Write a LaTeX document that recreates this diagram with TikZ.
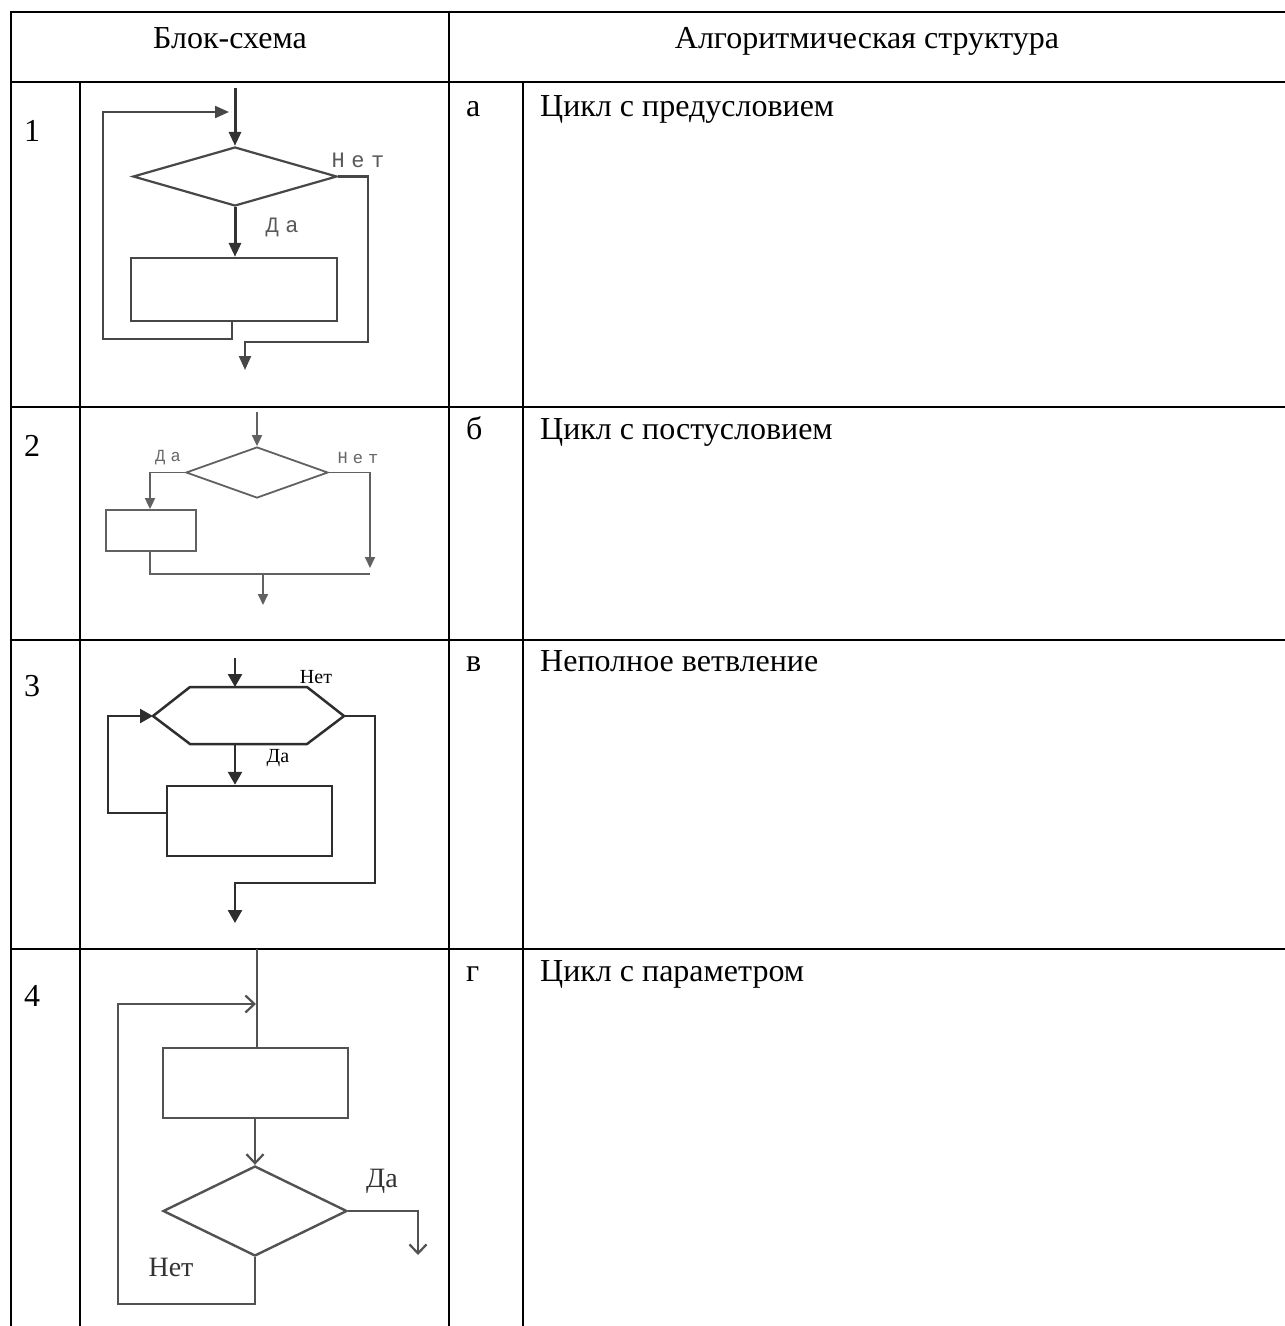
\documentclass[tikz,border=0pt]{standalone}
\usepackage{fontspec}
\setmainfont{Liberation Serif}
\setmonofont{Liberation Mono}
\newfontfamily\lblmono[LetterSpace=30]{Liberation Mono}
\usetikzlibrary{shapes.geometric,arrows.meta}
\begin{document}
\begin{tikzpicture}[x=1pt,y=-1pt,
  tbl/.style={line width=2.6pt,black},
  tblthin/.style={line width=1.8pt,black},
  txt/.style={anchor=base west,inner sep=0pt,font=\fontsize{32}{38}\selectfont},
  hdr/.style={anchor=base,inner sep=0pt,font=\fontsize{32}{38}\selectfont},
  fla/.style={draw=black!72,line width=2.2pt},
  flathick/.style={draw=black!80,line width=3pt},
  flb/.style={draw=black!62,line width=1.8pt},
  flc/.style={draw=black!82,line width=2.5pt},
  fld/.style={draw=black!68,line width=2.4pt},
  tipa/.style={-{Triangle[length=14pt,width=12pt]}},
  tipb/.style={-{Triangle[length=11pt,width=10pt]}},
  tipc/.style={-{Triangle[length=13pt,width=14pt]}},
  tipd/.style={-{Straight Barb[length=9pt,width=17pt,line width=2.2pt]}},
  lbla/.style={inner sep=0pt,text=black!65,font=\fontsize{22}{24}\lblmono},
  lblb/.style={inner sep=0pt,text=black!60,font=\fontsize{17}{19}\lblmono},
  lblc/.style={inner sep=0pt,text=black,font=\fontsize{20}{22}\selectfont},
  lbld/.style={inner sep=0pt,text=black!80,font=\fontsize{28}{30}\selectfont},
  dia/.style={shape=diamond,inner sep=0pt},
  boxs/.style={shape=rectangle,inner sep=0pt}
]
\useasboundingbox (0,0) rectangle (1285,1326);
\fill[white] (0,0) rectangle (1285,1326);

% ---------- table ----------
\draw[tbl] (11,12) -- (1285,12);
\draw[tbl] (11,82) -- (1285,82);
\draw[tbl] (11,407) -- (94,407);
\draw[tblthin] (94,407) -- (405,407);
\draw[tbl] (405,407) -- (1285,407);
\draw[tbl] (11,640) -- (94,640);
\draw[tblthin] (94,640) -- (421,640);
\draw[tbl] (421,640) -- (1285,640);
\draw[tbl] (11,949) -- (94,949);
\draw[tblthin] (94,949) -- (436,949);
\draw[tbl] (436,949) -- (1285,949);
\draw[tbl] (11,10.7) -- (11,1326);
\draw[tbl] (449,10.7) -- (449,1326);
\draw[tbl] (80,82) -- (80,1326);
\draw[tbl] (523,82) -- (523,1326);

\node[hdr] (h1) at (230,48) {Блок-схема};
\node[hdr] (h2) at (867,48) {Алгоритмическая структура};

\node[txt] (n1) at (24,141) {1};
\node[txt] (n2) at (24,456) {2};
\node[txt] (n3) at (24,696) {3};
\node[txt] (n4) at (24,1006) {4};

\node[txt] (s1) at (466,116) {а};
\node[txt] (s2) at (466,439) {б};
\node[txt] (s3) at (466,671) {в};
\node[txt] (s4) at (466,981) {г};

\node[txt] (t1) at (540,116) {Цикл с предусловием};
\node[txt] (t2) at (540,439) {Цикл с постусловием};
\node[txt] (t3) at (540,671) {Неполное ветвление};
\node[txt] (t4) at (540,981) {Цикл с параметром};

% ---------- flowchart 1 ----------
\node[dia,fla,minimum width=204pt,minimum height=59pt] (d1) at (235,176.5) {};
\node[boxs,fla,minimum width=206pt,minimum height=63pt] (r1) at (234,289.5) {};
\coordinate (in1) at (235,88);
\coordinate (j1) at (229,112);
\coordinate (out1) at (245,370);
\draw[flathick,tipa] (in1) -- (d1.north);
\draw[flathick,tipa] (d1.south) -- (d1.south |- r1.north);
\draw[fla,tipa] ([xshift=-2pt]r1.south) -- ++(0,17) -| (103,112) -- (j1);
\draw[fla,tipa] (d1.east) -| (368,342) -| (out1);
\node[lbla] (ln1) at (358,160) {Нет};
\node[lbla] (ly1) at (282,227) {Да};

% ---------- flowchart 2 ----------
\node[dia,flb,minimum width=142pt,minimum height=51pt] (d2) at (257,472.5) {};
\node[boxs,flb,minimum width=90pt,minimum height=41pt] (r2) at (151,530.5) {};
\coordinate (in2) at (257,412);
\coordinate (m2) at (370,574);
\coordinate (out2) at (263,605);
\draw[flb,tipb] (in2) -- (d2.north);
\draw[flb,tipb] (d2.west) -| (r2.north -| 150,0);
\draw[flb] (r2.south -| 150,0) |- (m2);
\draw[flb,tipb] (d2.east) -| (370,568);
\draw[flb,tipb] (out2 |- m2) -- (out2);
\node[lblb] (ly2) at (168,458) {Да};
\node[lblb] (ln2) at (358,458) {Нет};

% ---------- flowchart 3 ----------
\coordinate (hL) at (153,716);
\coordinate (hTL) at (190,687);
\coordinate (hTR) at (307,687);
\coordinate (hR) at (344,716);
\coordinate (hBR) at (307,744);
\coordinate (hBL) at (190,744);
\draw[flc,line join=round] (hL) -- (hTL) -- (hTR) -- (hR) -- (hBR) -- (hBL) -- cycle;
\node[boxs,flc,minimum width=165pt,minimum height=70pt] (r3) at (249.5,821) {};
\coordinate (in3) at (235,658);
\coordinate (out3) at (235,923);
\draw[flc,tipc] (in3) -- (in3 |- hTL);
\draw[flc,tipc] (in3 |- hBL) -- (in3 |- r3.north);
\draw[flc,tipc] (r3.west |- 0,813) -- (108,813) |- (hL);
\draw[flc,tipc] (hR) -| (375,883) -| (out3);
\node[lblc] (ln3) at (316,677) {Нет};
\node[lblc] (ly3) at (278,758) {Да};

% ---------- flowchart 4 ----------
\node[boxs,fld,minimum width=185pt,minimum height=70pt] (r4) at (255.5,1083) {};
\node[dia,fld,minimum width=184pt,minimum height=90pt] (d4) at (255,1211) {};
\coordinate (in4) at (257,949);
\coordinate (j4) at (256,1004);
\coordinate (out4) at (418,1255);
\draw[fld] (in4) -- (in4 |- r4.north);
\draw[fld,tipd] (r4.south -| d4.north) -- (d4.north);
\draw[fld,tipd] (d4.east) -| (out4);
\draw[fld,tipd] (d4.south) -- (255,1304) -| (118,1004) -- (j4);
\node[lbld] (ly4) at (382,1181) {Да};
\node[lbld] (ln4) at (171,1267) {Нет};
\end{tikzpicture}
\end{document}
